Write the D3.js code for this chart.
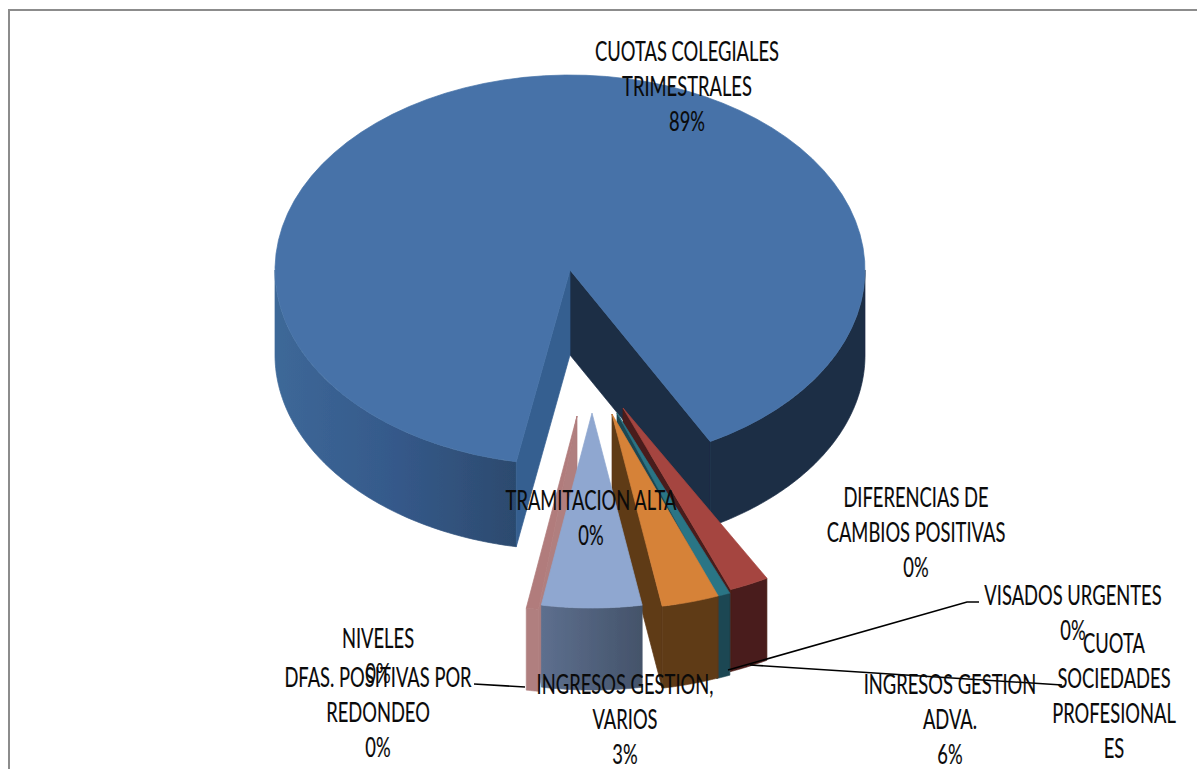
<!DOCTYPE html>
<html><head><meta charset="utf-8">
<script src="https://cdn.jsdelivr.net/npm/d3@7"></script>
<style>html,body{margin:0;padding:0;background:#fff;overflow:hidden}svg{display:block}
text{font-family:Lato,"Open Sans",sans-serif;font-size:27px;fill:#0a0a0a;stroke:#0a0a0a;stroke-width:0.15;text-anchor:middle}</style>
</head><body><svg id="c" width="1197" height="769"></svg>
<script>
// Data (share of the circle as drawn, in %)
const mainName = "CUOTAS COLEGIALES TRIMESTRALES";
const mainShare = 89.2;
const restShare = 10.8;
const sliceNames = ["DIFERENCIAS DE CAMBIOS POSITIVAS","VISADOS URGENTES","INGRESOS GESTION ADVA.","INGRESOS GESTION, VARIOS","DFAS. POSITIVAS POR REDONDEO"];
const sliceShares = [2.17,0.75,3.14,5.47,0.67];
const labelLines = [
 ["CUOTAS COLEGIALES","TRIMESTRALES","89%"],
 ["TRAMITACION ALTA","0%"],
 ["DIFERENCIAS DE","CAMBIOS POSITIVAS","0%"],
 ["VISADOS URGENTES","0%"],
 ["CUOTA","SOCIEDADES","PROFESIONAL","ES"],
 ["INGRESOS GESTION","ADVA.","6%"],
 ["INGRESOS GESTION,","VARIOS","3%"],
 ["NIVELES","0%"],
 ["DFAS. POSITIVAS POR","REDONDEO","0%"]
];
// Layout
const labelAnchors = [[687,61],[591,510],[916,507],[1073,605],[1114,653],[950,694],[625,694],[378,648],[378,687]];
const lineStep = 35;
const refLineWidth = 184; // drawn width of "CUOTAS COLEGIALES"
const leaders = [[[474,684],[525,687]],[[728,670],[967,602],[979,602]],[[750,665],[1062,685]]];
const rx = 295, ry = 195, depth = 85, sliceDepth = 82;
const mainApex = [570,270];
const sliceApex = [[623,408],[617,413],[612,414],[592,413],[577,416]];
const sliceTurn = [0,-1.1,-2.4,-2.4,-4.8];
const topFill = ["#A5453F","#2B7485","#D68239","#8FA7D0","#B17C7C"];
const wallFill = ["#4A1D1A","#1C4652","#5E3A17","url(#gBlue)","#B07F7F"];

const svg = d3.select("#c");
const rad = d => d*Math.PI/180;
const defs = svg.append("defs");
function grad(id, stops){
  const g = defs.append("linearGradient").attr("id",id);
  stops.forEach(([o,c])=>g.append("stop").attr("offset",o).attr("stop-color",c));
}
grad("gLeft",[[0,"#3D6898"],[0.5,"#35598A"],[1,"#2C4A6E"]]);
grad("gBlue",[[0,"#5D6F8E"],[1,"#44536A"]]);
defs.append("filter").attr("id","soft").append("feGaussianBlur").attr("stdDeviation",0.6);

const sx = d3.scaleLinear().domain([-1,1]).range([-rx,rx]);
const sy = d3.scaleLinear().domain([-1,1]).range([-ry,ry]);
const pt = (apex,a,z=0)=>[apex[0]+sx(Math.sin(a)), apex[1]-sy(Math.cos(a))+z];
const line = d3.line();
const arcPts = (apex,a0,a1,z=0)=>d3.range(0,81).map(i=>pt(apex,a0+(a1-a0)*i/80,z));
const down = (p,z)=>[p[0],p[1]+z];
const shape = (g,pts,fill)=>g.append("path").attr("d",line(pts)+"Z").attr("fill",fill).attr("stroke",fill).attr("stroke-width",0.7).attr("stroke-linejoin","round");

// frame
svg.append("path").attr("d",line([[1197,10],[9,10],[9,769]])).attr("fill","none").attr("stroke","#8c8c8c").attr("stroke-width",2);

// main slice
const mainArc = d3.pie().sort(null).startAngle(rad(190.5)).endAngle(rad(550.5))([mainShare,restShare])[0];
const a0 = mainArc.startAngle, a1 = mainArc.endAngle;
const G = svg.append("g").attr("class","slices").attr("filter","url(#soft)");
const wl = arcPts(mainApex,a0,rad(270));
shape(G,wl.concat(wl.map(p=>down(p,depth)).reverse()),"url(#gLeft)");
const wr = arcPts(mainApex,rad(450),a1);
shape(G,wr.concat(wr.map(p=>down(p,depth)).reverse()),"#1B2D45");
const e0 = pt(mainApex,a0), e1 = pt(mainApex,a1);
shape(G,[mainApex,down(mainApex,depth),down(e1,depth),e1],"#1B2D45");
shape(G,[mainApex,down(mainApex,depth),down(e0,depth),e0],"#355F90");
shape(G,[mainApex].concat(arcPts(mainApex,a0,a1)),"#4672A8").attr("data-name",mainName);

// exploded slices
const arcs = d3.pie().sort(null).startAngle(rad(150.8)).endAngle(rad(194.7))(sliceShares);
[0,1,4,2,3].forEach(i=>{
  const ap = sliceApex[i], s = arcs[i].startAngle+rad(sliceTurn[i]), e = arcs[i].endAngle+rad(sliceTurn[i]);
  const g = G.append("g").attr("data-name",sliceNames[i]);
  const ps = pt(ap,s), pe = pt(ap,e);
  const wallEdge = (s+e)/2 < Math.PI ? pe : ps;
  if(i!==3) shape(g,[ap,down(ap,sliceDepth),down(wallEdge,sliceDepth),wallEdge],wallFill[i]);
  const o = arcPts(ap,s,e);
  shape(g,o.concat(o.map(p=>down(p,sliceDepth)).reverse()),wallFill[i]);
  shape(g,[ap].concat(o),topFill[i]);
});

// leaders
svg.append("g").selectAll("path").data(leaders).join("path").attr("d",d=>line(d)).attr("fill","none").attr("stroke","#000").attr("stroke-width",1.6);

// labels: narrow the font to the drawn line width
const probe = svg.append("text").text(labelLines[0][0]);
const squeeze = refLineWidth/probe.node().getComputedTextLength();
probe.remove();
labelLines.forEach((ls,i)=>{
  ls.forEach((l,j)=>svg.append("text")
    .attr("transform",`translate(${labelAnchors[i][0]},${labelAnchors[i][1]+j*lineStep}) scale(${squeeze},1)`)
    .text(l));
});
</script></body></html>
